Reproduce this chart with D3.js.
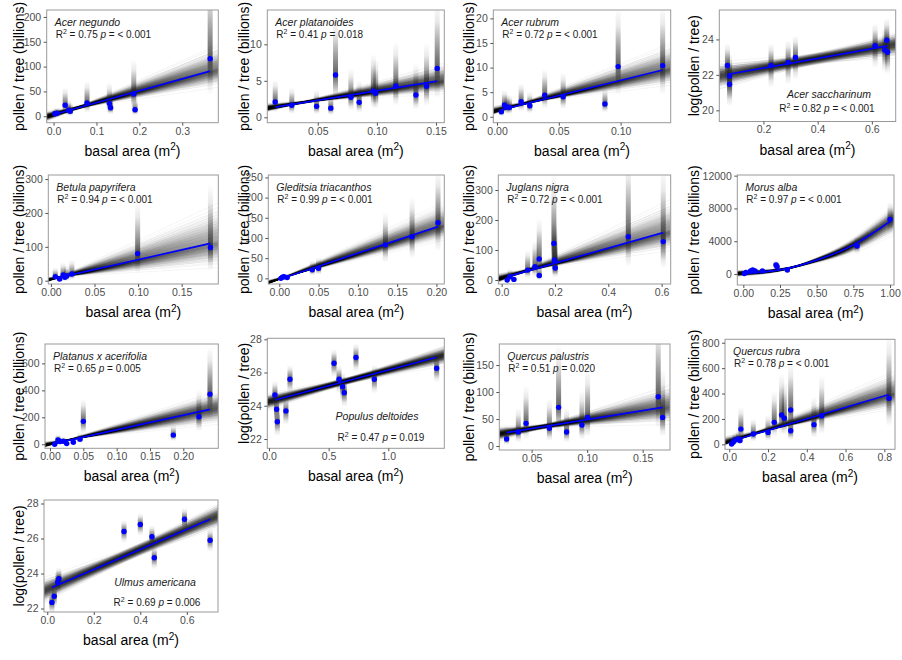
<!DOCTYPE html>
<html><head><meta charset="utf-8">
<script src="https://cdn.jsdelivr.net/npm/d3@7"></script>
<style>body{margin:0;background:#fff}svg{display:block}text{font-family:"Liberation Sans",Arial,sans-serif}</style>
</head><body><svg id="c" width="902" height="660"></svg>
<script>
// ---------------- DATA ----------------
const species=["Acer negundo","Acer platanoides","Acer rubrum","Acer saccharinum","Betula papyrifera","Gleditsia triacanthos","Juglans nigra","Morus alba","Platanus x acerifolia","Populus deltoides","Quercus palustris","Quercus rubra","Ulmus americana"];
const r2Values=["0.75","0.41","0.72","0.82","0.94","0.99","0.72","0.97","0.65","0.47","0.51","0.78","0.69"];
const pValues=["< 0.001","0.018","< 0.001","< 0.001","< 0.001","< 0.001","< 0.001","< 0.001","0.005","0.019","0.020","< 0.001","0.006"];
const logScale=[false,false,false,true,false,false,false,false,false,true,false,false,true];
const xTickLabels=[["0.0","0.1","0.2","0.3"],["0.05","0.10","0.15"],["0.00","0.05","0.10"],["0.2","0.4","0.6"],["0.00","0.05","0.10","0.15"],["0.00","0.05","0.10","0.15","0.20"],["0.0","0.2","0.4","0.6"],["0.00","0.25","0.50","0.75","1.00"],["0.00","0.05","0.10","0.15","0.20"],["0.0","0.5","1.0"],["0.05","0.10","0.15"],["0.0","0.2","0.4","0.6","0.8"],["0.0","0.2","0.4","0.6"]];
const yTickLabels=[[0,50,100,150,200],[0,5,10],[0,5,10,15,20],[20,22,24],[0,100,200,300],[0,50,100,150,200,250],[0,100,200,300],[0,4000,8000,12000],[0,200,400,600],[22,24,26,28],[0,50,100,150],[0,200,400,600,800],[22,24,26,28]];

const ptsAcerNegundo=[[0.003,5],[0.008,6],[0.027,22],[0.035,12],[0.039,10],[0.078,27],[0.130,26],[0.133,17],[0.187,45],[0.190,13],[0.365,116]];
const ptsAcerPlatanoides=[[0.014,2.1],[0.028,1.65],[0.049,1.5],[0.061,1.25],[0.065,5.8],[0.078,2.75],[0.085,2.05],[0.097,3.6],[0.099,3.3],[0.116,4.3],[0.133,3.05],[0.142,4.25],[0.151,6.7]];
const ptsAcerRubrum=[[0.0035,1.0],[0.006,2.4],[0.008,2.0],[0.010,1.9],[0.0195,3.05],[0.0265,2.25],[0.0386,4.4],[0.0535,4.07],[0.0873,2.6],[0.098,10.2],[0.134,10.4]];
const ptsAcerSaccharinum=[[0.067,22.53],[0.075,21.94],[0.075,21.47],[0.228,22.53],[0.291,22.7],[0.318,22.98],[0.612,23.64],[0.648,23.4],[0.655,23.95],[0.658,23.28]];
const ptsBetulaPapyrifera=[[0.005,12],[0.010,5],[0.014,17],[0.016,10],[0.018,14],[0.024,20],[0.0995,80],[0.183,98]];
const ptsGleditsiaTriacanthos=[[0.002,0],[0.004,3],[0.006,4],[0.010,2],[0.042,21],[0.050,25],[0.135,83],[0.169,103],[0.202,138]];
const ptsJuglansNigra=[[0.021,0],[0.031,11],[0.046,2],[0.0975,33],[0.125,44],[0.141,70],[0.141,15],[0.196,122],[0.198,67],[0.200,62],[0.201,40],[0.475,144],[0.606,128]];
const ptsMorusAlba=[[0.007,50],[0.018,200],[0.050,370],[0.064,490],[0.080,370],[0.130,370],[0.223,1100],[0.230,900],[0.300,490],[0.775,3420],[1.000,6670]];
const ptsPlatanus=[[0.007,0],[0.012,32],[0.015,20],[0.020,22],[0.025,5],[0.035,15],[0.045,38],[0.050,170],[0.185,68],[0.2235,204],[0.240,372]];
const ptsPopulusDeltoides=[[0.05,24.65],[0.064,23.79],[0.07,23.04],[0.142,23.69],[0.176,25.6],[0.545,26.56],[0.587,25.6],[0.617,25.15],[0.631,24.79],[0.729,26.9],[0.883,25.6],[1.405,26.26]];
const ptsQuercusPalustris=[[0.0275,13],[0.038,26],[0.045,42],[0.066,32.7],[0.0743,71.6],[0.0815,26],[0.0953,38.9],[0.1004,53],[0.164,91.3],[0.168,53]];
const ptsQuercusRubra=[[0.012,3],[0.02,16],[0.03,34],[0.046,42],[0.055,30],[0.06,120],[0.124,81],[0.2,94],[0.232,173],[0.27,231],[0.284,205],[0.317,270],[0.317,107],[0.437,155],[0.477,225],[0.824,362]];
const ptsUlmusAmericana=[[0.02,22.35],[0.03,22.7],[0.045,23.5],[0.05,23.7],[0.33,26.4],[0.40,26.8],[0.45,26.1],[0.46,24.9],[0.59,27.1],[0.70,25.9]];

// fitted (blue) lines: values read at a few basal areas
const fitAcerNegundo=[[0.003,4],[0.365,91]];
const fitAcerPlatanoides=[[0.014,1.4],[0.151,4.95]];
const fitAcerRubrum=[[0.0035,1.45],[0.134,9.5]];
const fitAcerSaccharinum=[[0.067,22.02],[0.658,23.64]];
const fitBetulaPapyrifera=[[0.005,7],[0.183,110]];
const fitGleditsiaTriacanthos=[[0.002,-1],[0.202,128]];
const fitJuglansNigra=[[0.021,11],[0.606,158]];
const fitMorusAlba=[[0,100],[0.25,500],[0.5,1700],[0.75,3550],[1.0,6400]];
const fitPlatanus=[[0.007,7],[0.24,259]];
const fitPopulusDeltoides=[[0.05,24.35],[1.405,26.92]];
const fitQuercusPalustris=[[0.0275,24.7],[0.168,71.6]];
const fitQuercusRubra=[[0.012,26],[0.824,392]];
const fitUlmusAmericana=[[0.02,23.2],[0.70,27.1]];

// posterior line ensemble extent at left / right panel edge [low, high]
const bandAcerNegundo=[[-10,9],[60,145]];
const bandAcerPlatanoides=[[0.8,1.9],[3.3,7.5]];
const bandAcerRubrum=[[0.5,2.2],[6.5,15]];
const bandAcerSaccharinum=[[21.3,22.6],[23.1,24.3]];
const bandBetulaPapyrifera=[[-3,10],[40,230]];
const bandGleditsiaTriacanthos=[[-14,-4],[95,190]];
const bandJuglansNigra=[[-8,22],[100,270]];
const bandMorusAlba=[[-300,400],[4800,8500]];
const bandPlatanus=[[-20,20],[150,400]];
const bandPopulusDeltoides=[[23.8,24.65],[26.5,27.6]];
const bandQuercusPalustris=[[10,35],[42,115]];
const bandQuercusRubra=[[-5,65],[280,580]];
const bandUlmusAmericana=[[22.45,23.6],[26.75,27.9]];

const points=[ptsAcerNegundo,ptsAcerPlatanoides,ptsAcerRubrum,ptsAcerSaccharinum,ptsBetulaPapyrifera,ptsGleditsiaTriacanthos,ptsJuglansNigra,ptsMorusAlba,ptsPlatanus,ptsPopulusDeltoides,ptsQuercusPalustris,ptsQuercusRubra,ptsUlmusAmericana];
const fits=[fitAcerNegundo,fitAcerPlatanoides,fitAcerRubrum,fitAcerSaccharinum,fitBetulaPapyrifera,fitGleditsiaTriacanthos,fitJuglansNigra,fitMorusAlba,fitPlatanus,fitPopulusDeltoides,fitQuercusPalustris,fitQuercusRubra,fitUlmusAmericana];
const bands=[bandAcerNegundo,bandAcerPlatanoides,bandAcerRubrum,bandAcerSaccharinum,bandBetulaPapyrifera,bandGleditsiaTriacanthos,bandJuglansNigra,bandMorusAlba,bandPlatanus,bandPopulusDeltoides,bandQuercusPalustris,bandQuercusRubra,bandUlmusAmericana];

// ---------------- LAYOUT / STYLE ----------------
const boxes=[[46.7,10,218.3,122.7],[267.3,10,444.3,122.7],[493.3,10,670.7,122.7],[719.3,10,895.7,121.5],
 [48.3,175,218.3,284],[268.3,175,444.3,284],[498.3,175,670.7,284],[737.3,175,894,285],
 [45,344,218.3,448.3],[267.3,338.3,444.3,448.3],[499.3,344,670,450],[725,339.3,895,449.3],
 [44,500,218,612]];
const cellX=[0,225,450,675,0,225,450,675,0,225,450,675,0];
const xDomains=[[-0.016,0.384],[0.0073,0.157],[-0.003,0.1405],[0.037,0.688],[-0.003,0.192],[-0.014,0.21],[-0.0125,0.634],[-0.041,1.027],[-0.0075,0.2525],[-0.014,1.469],[0.0209,0.1746],[-0.022,0.855],[-0.014,0.734]];
const yDomains=[[-13,214],[-0.74,14.7],[-1.2,21.7],[19.37,25.66],[-9.7,312],[-14,256],[-13.3,350],[-1340,12080],[-30,744],[21.44,28.06],[-7.4,189],[-39,827],[21.8,28.2]];
const smearK=[0.9,0.85,0.75,1.25,1.05,0.65,1.05,0.25,0.65,0.85,0.95,0.85,0.65];
const fanPow=[1,1,1,1,1,1,1,1.8,1,1,1,1,1];
const interceptF=[0.5,0.5,0.5,0.8,0.5,0.5,0.5,0.5,0.5,0.7,0.5,0.5,0.9];
// centred annotations [speciesX, speciesY, statX, statY]; null = top-left
const annotCenter=[null,null,null,[829,98.3,827,112.3],null,null,null,null,null,[377,420,381,440.7],null,null,[155,586,157,606]];

// ---------------- DRAW ----------------
const svg=d3.select('#c');
const defs=svg.append('defs');
const gUp=defs.append('linearGradient').attr('id','gUp').attr('x1',0).attr('y1',0).attr('x2',0).attr('y2',1);
[[0,0],[0.3,0.1],[0.65,0.42],[1,0.72]].forEach(s=>gUp.append('stop').attr('offset',s[0]).attr('stop-color','#222').attr('stop-opacity',s[1]));
const gDn=defs.append('linearGradient').attr('id','gDn').attr('x1',0).attr('y1',0).attr('x2',0).attr('y2',1);
[[0,0.72],[0.35,0.42],[0.7,0.1],[1,0]].forEach(s=>gDn.append('stop').attr('offset',s[0]).attr('stop-color','#222').attr('stop-opacity',s[1]));

function probit(p){
 const a=[-3.969683028665376e+01,2.209460984245205e+02,-2.759285104469687e+02,1.383577518672690e+02,-3.066479806614716e+01,2.506628277459239e+00];
 const b=[-5.447609879822406e+01,1.615858368580409e+02,-1.556989798598866e+02,6.680131188771972e+01,-1.328068155288572e+01];
 const c=[-7.784894002430293e-03,-3.223964580411365e-01,-2.400758277161838e+00,-2.549732539343734e+00,4.374664141464968e+00,2.938163982698783e+00];
 const d=[7.784695709041462e-03,3.224671290700398e-01,2.445134137142996e+00,3.754408661907416e+00];
 const pl=0.02425;
 if(p<pl){const q=Math.sqrt(-2*Math.log(p));return (((((c[0]*q+c[1])*q+c[2])*q+c[3])*q+c[4])*q+c[5])/((((d[0]*q+d[1])*q+d[2])*q+d[3])*q+1);}
 if(p>1-pl){const q=Math.sqrt(-2*Math.log(1-p));return -(((((c[0]*q+c[1])*q+c[2])*q+c[3])*q+c[4])*q+c[5])/((((d[0]*q+d[1])*q+d[2])*q+d[3])*q+1);}
 const q=p-0.5,r=q*q;return (((((a[0]*r+a[1])*r+a[2])*r+a[3])*r+a[4])*r+a[5])*q/(((((b[0]*r+b[1])*r+b[2])*r+b[3])*r+b[4])*r+1);
}
function makeFit(pts){
 return function(v){
  let k=0;
  while(k<pts.length-2 && v>pts[k+1][0]) k++;
  const [x0,y0]=pts[k],[x1,y1]=pts[k+1];
  return y0+(y1-y0)*(v-x0)/(x1-x0);
 };
}

for(let i=0;i<13;i++){
 const [L,T,R,B]=boxes[i];
 const x=d3.scaleLinear().domain(xDomains[i]).range([L,R]);
 const y=d3.scaleLinear().domain(yDomains[i]).range([B,T]);
 defs.append('clipPath').attr('id','clip'+i).append('rect').attr('x',L).attr('y',T).attr('width',R-L).attr('height',B-T);
 const g=svg.append('g').attr('clip-path',`url(#clip${i})`);
 const fp=fits[i], f=makeFit(fp), [xl,xr]=xDomains[i];
 const fL=f(xl), fR=f(xr), [bl,br]=bands[i];
 const N=320;
 const zMax=probit((N-0.5)/N);
 const wLlo=Math.max(1e-6,(fL-bl[0])/zMax), wLhi=Math.max(1e-6,(bl[1]-fL)/zMax);
 const wRlo=Math.max(1e-6,(fR-br[0])/zMax), wRhi=Math.max(1e-6,(br[1]-fR)/zMax);
 const cc=interceptF[i]*Math.min(wLlo,wLhi,wRlo,wRhi);
 const curved=fp.length>2;
 const nodes=curved?[xl,...fp.map(p=>p[0]),xr]:[xl,xr];
 const lineGen=d3.line().curve(curved?d3.curveNatural:d3.curveLinear);
 const ens=g.append('g').attr('fill','none').attr('stroke','#000').attr('stroke-opacity',0.042).attr('stroke-width',1);
 for(let k=0;k<N;k++){
  const s=probit((k+0.5)/N);
  const t=probit(((k*0.6180339887+0.137)%1)*0.96+0.02);
  const offL=s>=0?-s*wLlo:-s*wLhi;
  const offR=s>=0?s*wRhi:s*wRlo;
  const pts=nodes.map(v=>{const gg=Math.pow((v-xl)/(xr-xl),fanPow[i]);return [x(v),y(f(v)+offL*(1-gg)+offR*gg+t*cc)];});
  ens.append('path').attr('d',lineGen(pts));
 }
 // posterior smears per tree
 const span=yDomains[i][1]-yDomains[i][0], k=smearK[i];
 points[i].forEach(p=>{
  let hi,lo;
  if(logScale[i]){hi=p[1]+k;lo=p[1]-k;}
  else{hi=p[1]*Math.exp(k)+0.015*span;lo=p[1]*Math.exp(-k)-0.015*span;}
  g.append('rect').attr('x',x(p[0])-2.5).attr('width',5).attr('y',y(hi)).attr('height',Math.max(0,y(p[1])-y(hi))).attr('fill','url(#gUp)');
  g.append('rect').attr('x',x(p[0])-2.5).attr('width',5).attr('y',y(p[1])).attr('height',Math.max(0,y(lo)-y(p[1]))).attr('fill','url(#gDn)');
 });
 // fitted line
 g.append('path').attr('d',lineGen(fp.map(p=>[x(p[0]),y(p[1])]))).attr('fill','none').attr('stroke','#0000ff').attr('stroke-width',1.7);
 // observations
 g.selectAll('circle.pt').data(points[i]).enter().append('circle').attr('cx',d=>x(d[0])).attr('cy',d=>y(d[1])).attr('r',2.7).attr('fill','#0000ff');
 // border
 svg.append('rect').attr('x',L).attr('y',T).attr('width',R-L).attr('height',B-T).attr('fill','none').attr('stroke','#999').attr('stroke-width',1);
 // axes
 const xl_=xTickLabels[i];
 const ax=svg.append('g').attr('transform',`translate(0,${B})`).call(d3.axisBottom(x).tickValues(xl_.map(Number)).tickFormat((d,j)=>xl_[j]).tickSize(3).tickSizeOuter(0).tickPadding(1.5));
 const yl_=yTickLabels[i];
 const ay=svg.append('g').attr('transform',`translate(${L},0)`).call(d3.axisLeft(y).tickValues(yl_).tickFormat(d=>String(d)).tickSize(3).tickSizeOuter(0).tickPadding(2.5));
 [ax,ay].forEach(a=>{a.select('.domain').remove();a.selectAll('line').attr('stroke','#555');a.selectAll('text').attr('font-size',10.5).attr('fill','#4d4d4d').attr('font-family','"Liberation Sans",Arial,sans-serif');});
 // axis titles
 const xt=svg.append('text').attr('x',(L+R)/2).attr('y',B+33).attr('text-anchor','middle').attr('font-size',14).attr('fill','#000');
 xt.append('tspan').text('basal area (m');
 xt.append('tspan').text('2').attr('font-size',10).attr('dy',-5.5);
 xt.append('tspan').text(')').attr('dy',5.5);
 svg.append('text').attr('transform',`translate(${cellX[i]+23.5},${(T+B)/2}) rotate(-90)`).attr('text-anchor','middle').attr('font-size',14).attr('fill','#000')
  .text(logScale[i]?'log(pollen / tree)':'pollen / tree (billions)');
 // annotation
 const ac=annotCenter[i];
 const sx=ac?ac[0]:L+8, sy=ac?ac[1]:T+16, rx=ac?ac[2]:L+9, ry=ac?ac[3]:T+27.5, anc=ac?'middle':'start';
 svg.append('text').attr('x',sx).attr('y',sy).attr('text-anchor',anc).attr('font-size',10.5).attr('font-style','italic').attr('fill','#1a1a1a').text(species[i]);
 const st=svg.append('text').attr('x',rx).attr('y',ry).attr('text-anchor',anc).attr('font-size',10).attr('fill','#1a1a1a');
 st.append('tspan').text('R');
 st.append('tspan').text('2').attr('font-size',7).attr('dy',-4);
 st.append('tspan').text(' = '+r2Values[i]+' ').attr('dy',4);
 st.append('tspan').text('p').attr('font-style','italic');
 st.append('tspan').text(' = '+pValues[i]);
}
</script></body></html>
